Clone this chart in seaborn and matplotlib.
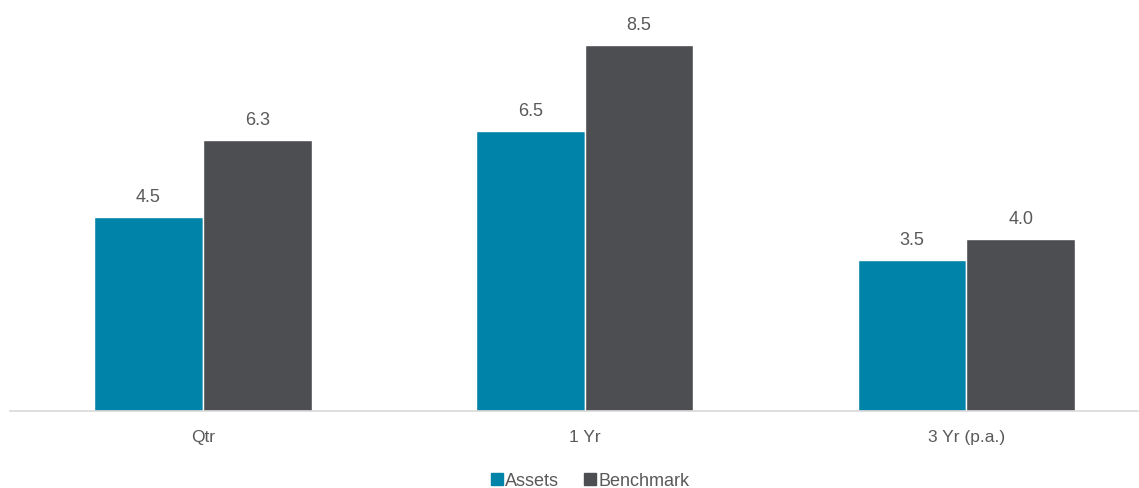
import numpy as np
import matplotlib.pyplot as plt
import pandas as pd
import seaborn as sns
from matplotlib.lines import Line2D

# Datos del gráfico
periods = ["Qtr", "1 Yr", "3 Yr (p.a.)"]
assets = [4.5, 6.5, 3.5]
benchmark = [6.3, 8.5, 4.0]
series = ["Assets", "Benchmark"]
colors = ["#0083A8", "#4D4E52"]

df = pd.DataFrame({
    "period": periods * 2,
    "serie": [series[0]] * 3 + [series[1]] * 3,
    "value": assets + benchmark,
})

sns.set_theme(style="white")
plt.rcParams["font.family"] = ["Liberation Sans", "DejaVu Sans"]

fig = plt.figure(figsize=(11.39, 4.88), dpi=100)
ax = fig.add_axes([0.0088, 0.158, 0.9904, 0.793])

sns.barplot(data=df, x="period", y="value", hue="serie", palette=colors,
            width=0.57, saturation=1, ax=ax, legend=False)

for cont in ax.containers:
    ax.bar_label(cont, fmt="%.1f", padding=8, fontsize=13, color="#595959")

ax.set_ylim(0, 9)
ax.set_xlim(-0.505, 2.45)
ax.set_xlabel("")
ax.set_ylabel("")
ax.set_yticks([])
ax.tick_params(axis="x", length=0, pad=14, labelsize=12.5, colors="#595959")
for s in ["left", "right", "top"]:
    ax.spines[s].set_visible(False)
ax.spines["bottom"].set_color("#D9D9D9")
ax.spines["bottom"].set_linewidth(1.2)

handles = [Line2D([], [], marker="s", linestyle="", markersize=8, color=c) for c in colors]
fig.legend(handles, series, loc="center", bbox_to_anchor=(589 / 1139, 1 - 481 / 488),
           ncol=2, frameon=False, fontsize=13, handletextpad=0.0, columnspacing=1.3,
           labelcolor="#595959", handlelength=0.9)

fig.savefig("out.png", dpi=100)
